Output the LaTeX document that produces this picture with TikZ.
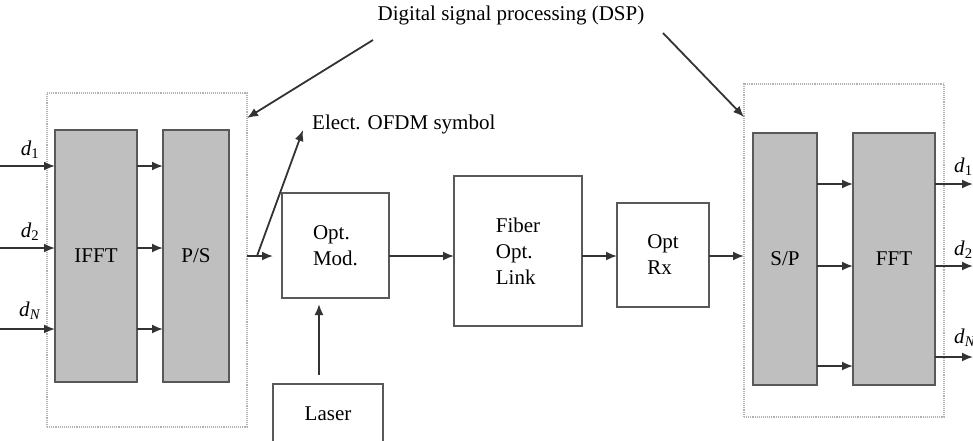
\documentclass[tikz,border=0pt]{standalone}
\usepackage{fontspec}
\setmainfont{Liberation Serif}
\usetikzlibrary{arrows.meta,positioning}

\newcommand{\dsub}[1]{\textit{d}\textsubscript{#1}}

\begin{document}
\begin{tikzpicture}[x=1pt, y=-1pt,
    font=\fontsize{21}{26}\selectfont,
    blk/.style={draw=black!65, line width=1.7pt, align=left, inner sep=0pt, outer sep=0pt},
    proc/.style={blk, align=center, fill=gray!50},
    dspbox/.style={draw=gray!60, line width=1.1pt, densely dotted, inner sep=0pt, outer sep=0pt},
    arrow/.style={-{Latex[length=11pt, width=9pt]}, line width=1.8pt, draw=black!80},
    lbl/.style={inner sep=1pt}
  ]
    \useasboundingbox (0,0) rectangle (973,440);

    % transmitter DSP
    \node[dspbox, minimum width=200pt, minimum height=334pt] (dspL) at (147,260) {};
    \node[proc, minimum width=82pt, minimum height=252pt] (ifft) at (96,256) {IFFT};
    \node[proc, minimum width=66pt, minimum height=252pt, right=26pt of ifft] (ps) {P/S};

    % optical part
    \node[blk, minimum width=107pt, minimum height=105pt] (optmod) at (335.5,245.5) {Opt.\\Mod.};
    \node[blk, minimum width=128pt, minimum height=150pt] (fiber) at (518,251) {Fiber\\Opt.\\Link};
    \node[blk, minimum width=92pt, minimum height=104pt] (optrx) at (663,255) {Opt\\Rx};
    \node[blk, minimum width=110pt, minimum height=60pt] (laser) at (328,414) {Laser};

    % receiver DSP
    \node[dspbox, minimum width=200pt, minimum height=333pt] (dspR) at (844,250.5) {};
    \node[proc, minimum width=64pt, minimum height=252pt] (sp) at (785,259) {S/P};
    \node[proc, minimum width=82pt, minimum height=252pt, right=36pt of sp] (fft) {FFT};

    % labels
    \node[lbl] (dsp) at (511,15) {Digital signal processing (DSP)};
    \node[lbl, anchor=west] (ofdm) at (311,124) {Elect. OFDM symbol};
    \node[lbl] (din1) at (30,150) {\dsub{1}};
    \node[lbl] (din2) at (30,232) {\dsub{2}};
    \node[lbl] (dinN) at (30,311) {\dsub{\textit{N}}};
    \node[lbl, anchor=west] (dout1) at (953,167) {\dsub{1}};
    \node[lbl, anchor=west] (dout2) at (953,250) {\dsub{2}};
    \node[lbl, anchor=west] (doutN) at (953,338) {\dsub{\textit{N}}};

    \coordinate (r1) at (0,166);
    \coordinate (r2) at (0,248);
    \coordinate (rN) at (0,329);
    \coordinate (o1) at (973,184);
    \coordinate (o2) at (973,266);
    \coordinate (oN) at (973,357);
    \coordinate (pN) at (973,366);
    \coordinate (tap) at (257,256);
    \coordinate (tl) at (373,40);
    \coordinate (tr) at (663,33);

    % parallel lanes
    \foreach \r in {r1,r2,rN} {
      \draw[arrow] (\r) -- (\r -| ifft.west);
      \draw[arrow] (\r -| ifft.east) -- (\r -| ps.west);
    }
    \foreach \o/\p in {o1/o1,o2/o2,oN/pN} {
      \draw[arrow] (\p -| sp.east) -- (\p -| fft.west);
      \draw[arrow] (\o -| fft.east) -- (\o);
    }

    % main signal path
    \draw[arrow, shorten >=9pt] (ps -| dspL.east) -- (ps -| optmod.west);
    \draw[arrow] (tap) -- ([xshift=-8pt,yshift=-6pt]ofdm.west);
    \draw[arrow] (ps -| optmod.east) -- (ps -| fiber.west);
    \draw[arrow] (ps -| fiber.east) -- (ps -| optrx.west);
    \draw[arrow] (ps -| optrx.east) -- (ps -| dspR.west);
    \draw[arrow, shorten <=9pt, shorten >=6pt] ([xshift=-9pt]laser.north) -- ([xshift=-9pt]laser.north |- optmod.south);

    % DSP pointers
    \draw[arrow] (tl) -- ([yshift=-25pt]dspL.north east);
    \draw[arrow] (tr) -- ([yshift=-33pt]dspR.north west);
\end{tikzpicture}
\end{document}
